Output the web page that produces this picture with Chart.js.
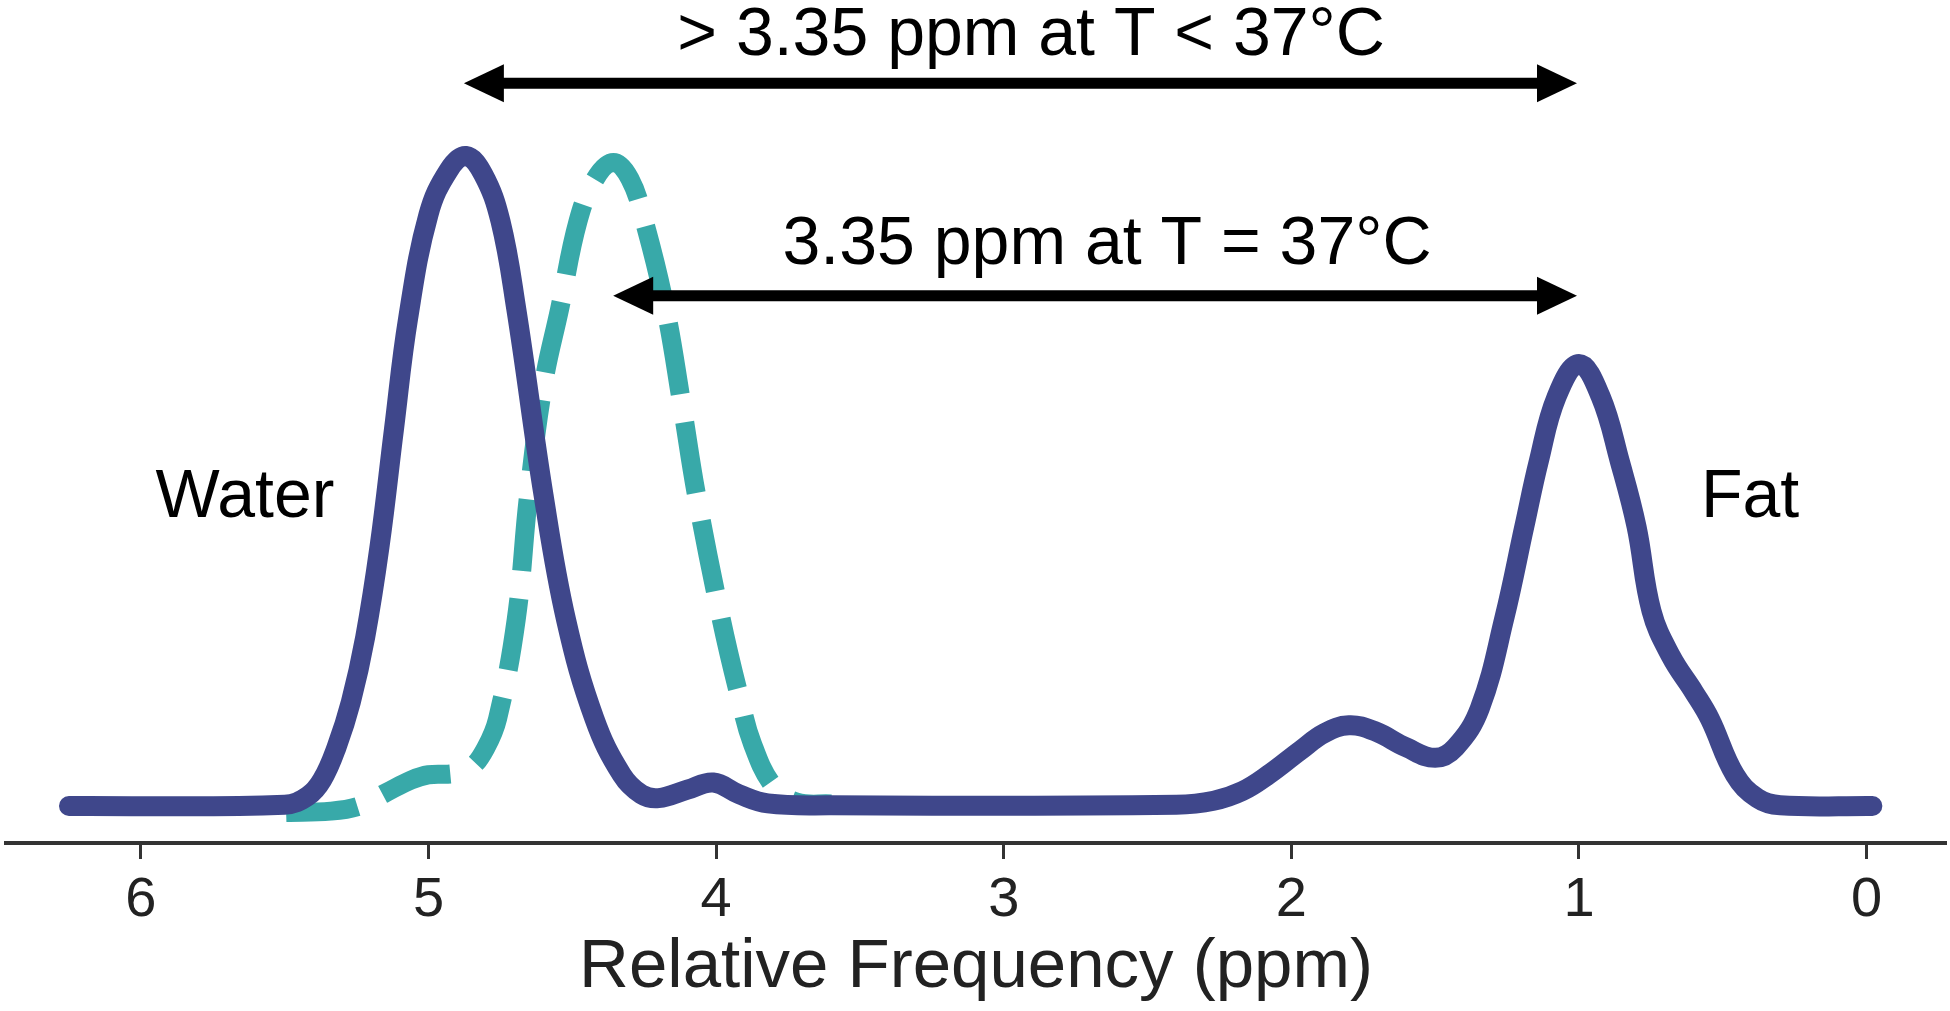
<!DOCTYPE html>
<html>
<head>
<meta charset="utf-8">
<script src="https://cdn.jsdelivr.net/npm/chart.js@4/dist/chart.umd.min.js"></script>
<style>
  html, body { margin: 0; padding: 0; background: #fff; }
  canvas { display: block; }
</style>
</head>
<body>
<canvas id="spectrum" width="1950" height="1011"></canvas>
<script>
// Spectrum: chemical shift (ppm) and relative intensity
const solidPpm = [6.25, 5.5, 5.42, 5.37, 5.32, 5.27, 5.22, 5.17, 5.12, 5.071, 5.0, 4.93, 4.87, 4.81, 4.75, 4.695, 4.6, 4.522, 4.423, 4.328, 4.26, 4.2, 4.1, 4.01, 3.92, 3.82, 3.6, 2.4, 2.27, 2.17, 2.08, 1.97, 1.885, 1.8, 1.71, 1.6, 1.5, 1.43, 1.345, 1.259, 1.19, 1.14, 1.0775, 1.0, 0.925, 0.858, 0.8, 0.748, 0.68, 0.6, 0.545, 0.458, 0.38, 0.3, -0.02];
const solidIntensity = [0, 0.002, 0.015, 0.04, 0.09, 0.16, 0.26, 0.4, 0.58, 0.75, 0.91, 0.978, 1.0, 0.972, 0.9, 0.765, 0.478, 0.287, 0.134, 0.048, 0.018, 0.012, 0.025, 0.036, 0.018, 0.004, 0.001, 0.002, 0.008, 0.023, 0.048, 0.085, 0.112, 0.124, 0.115, 0.09, 0.074, 0.09, 0.15, 0.29, 0.43, 0.53, 0.63, 0.68, 0.63, 0.53, 0.43, 0.3, 0.23, 0.175, 0.134, 0.048, 0.012, 0.001, 0];

const dashedPpm = [5.495, 5.34, 5.24, 5.15, 5.06, 5.0, 4.91, 4.85, 4.8, 4.76, 4.695, 4.652, 4.6, 4.544, 4.48, 4.42, 4.357, 4.3, 4.25, 4.176, 4.12, 4.068, 3.982, 3.92, 3.874, 3.8, 3.72, 3.6];
const dashedIntensity = [-0.01, -0.008, 0.0, 0.02, 0.04, 0.048, 0.05, 0.06, 0.09, 0.134, 0.287, 0.478, 0.65, 0.765, 0.9, 0.965, 0.99, 0.965, 0.9, 0.765, 0.62, 0.478, 0.287, 0.17, 0.096, 0.03, 0.006, 0.003];

const xTicks = [6, 5, 4, 3, 2, 1, 0];

// Peak-to-peak arrows (ppm)
const arrowFrom = [4.877, 4.358];
const arrowTo = [1.007, 1.007];
const arrowLabels = ["> 3.35 ppm at T < 37\u00B0C", "3.35 ppm at T = 37\u00B0C"];

const FONT = "'Liberation Sans', Arial, Helvetica, sans-serif";

function toPoints(xs, ys) {
  return xs.map((x, i) => ({ x: x, y: ys[i] }));
}

// Draws the arrows and text labels in data coordinates
const annotations = {
  id: "annotations",
  afterDatasetsDraw(chart) {
    const c = chart.ctx;
    const xs = chart.scales.x;
    const ys = chart.scales.y;
    const arrowY = [1.112, 0.785];
    const textPos = [[2.905, 1.155], [2.641, 0.834]];

    c.save();
    c.fillStyle = "#000";
    c.strokeStyle = "#000";
    c.font = "68px " + FONT;
    c.textAlign = "center";
    c.textBaseline = "alphabetic";

    for (let i = 0; i < arrowFrom.length; i++) {
      let x1 = xs.getPixelForValue(arrowFrom[i]);
      let x2 = xs.getPixelForValue(arrowTo[i]);
      let y = ys.getPixelForValue(arrowY[i]);
      let head = 40, half = 19;
      c.lineWidth = 11;
      c.beginPath();
      c.moveTo(x1 + head - 2, y);
      c.lineTo(x2 - head + 2, y);
      c.stroke();
      c.beginPath();
      c.moveTo(x1, y);
      c.lineTo(x1 + head, y - half);
      c.lineTo(x1 + head, y + half);
      c.closePath();
      c.fill();
      c.beginPath();
      c.moveTo(x2, y);
      c.lineTo(x2 - head, y - half);
      c.lineTo(x2 - head, y + half);
      c.closePath();
      c.fill();

      c.fillText(arrowLabels[i], xs.getPixelForValue(textPos[i][0]), ys.getPixelForValue(textPos[i][1]));
    }

    c.fillText("Water", xs.getPixelForValue(5.638), ys.getPixelForValue(0.445));
    c.fillText("Fat", xs.getPixelForValue(0.405), ys.getPixelForValue(0.445));
    c.restore();
  }
};

let ctx = document.getElementById("spectrum").getContext("2d");
let spectrumChart = new Chart(ctx, {
  type: "line",
  data: {
    datasets: [
      {
        label: "T = 37\u00B0C",
        data: toPoints(solidPpm, solidIntensity),
        borderColor: "#3f478b",
        borderWidth: 20,
        borderCapStyle: "round",
        borderJoinStyle: "round",
        tension: 0.4,
        pointRadius: 0,
        fill: false,
        clip: false,
      },
      {
        label: "T < 37\u00B0C",
        data: toPoints(dashedPpm, dashedIntensity),
        borderColor: "#38a9a9",
        borderWidth: 19,
        borderDash: [72, 28],
        borderCapStyle: "butt",
        tension: 0.4,
        pointRadius: 0,
        fill: false,
        clip: false,
      },
    ],
  },
  options: {
    responsive: false,
    animation: false,
    events: [],
    layout: { padding: { left: 6, right: 4, top: 0, bottom: 0 } },
    plugins: {
      legend: { display: false },
      tooltip: { enabled: false },
    },
    scales: {
      x: {
        type: "linear",
        reverse: true,
        min: -0.276,
        max: 6.469,
        afterBuildTicks: (scale) => {
          scale.ticks = xTicks.map((v) => ({ value: v }));
        },
        afterFit: (scale) => {
          scale.height = 168;
        },
        grid: {
          display: true,
          drawOnChartArea: false,
          drawTicks: true,
          tickLength: 16,
          tickWidth: 3,
          color: "#333",
        },
        border: { display: true, color: "#333", width: 4 },
        ticks: {
          padding: 8,
          color: "#222",
          font: { family: FONT, size: 56, lineHeight: 1.2 },
          maxRotation: 0,
          callback: (v) => String(v),
        },
        title: {
          display: true,
          text: "Relative Frequency (ppm)",
          color: "#222",
          font: { family: FONT, size: 69, lineHeight: 1.2 },
          padding: { top: 0, bottom: 2 },
        },
      },
      y: {
        type: "linear",
        display: false,
        min: -0.057,
        max: 1.24,
      },
    },
  },
  plugins: [annotations],
});
</script>
</body>
</html>
